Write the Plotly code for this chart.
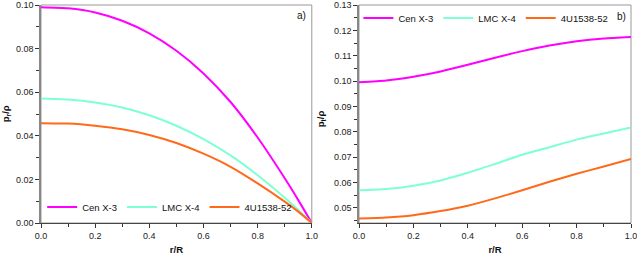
import plotly.graph_objects as go

# ---- data ----
r_left = [0.0, 0.1, 0.2, 0.3, 0.4, 0.5, 0.6, 0.7, 0.8, 0.9, 0.95, 1.0]
pr_cen = [0.0990, 0.0985, 0.0966, 0.0928, 0.0870, 0.0790, 0.0686, 0.0555, 0.0392, 0.0205, 0.0105, 0.0]
pr_lmc = [0.0571, 0.0566, 0.0553, 0.0530, 0.0494, 0.0446, 0.0385, 0.0310, 0.0219, 0.0116, 0.0060, 0.0]
pr_4u = [0.0458, 0.0456, 0.0446, 0.0430, 0.0404, 0.0367, 0.0318, 0.0258, 0.0182, 0.0098, 0.0052, 0.0]

r_right = [0.0, 0.1, 0.2, 0.3, 0.4, 0.5, 0.6, 0.7, 0.8, 0.9, 1.0]
pt_cen = [0.0995, 0.1002, 0.1017, 0.1038, 0.1064, 0.1092, 0.1118, 0.1140, 0.1157, 0.1168, 0.1174]
pt_lmc = [0.0569, 0.0574, 0.0587, 0.0608, 0.0638, 0.0673, 0.0709, 0.0739, 0.0769, 0.0793, 0.0817]
pt_4u = [0.0458, 0.0462, 0.0471, 0.0487, 0.0508, 0.0537, 0.0569, 0.0603, 0.0634, 0.0663, 0.0693]

names = ["Cen X-3", "LMC X-4", "4U1538-52"]
colors = ["#ff00ff", "#7fffd4", "#ff6a1a"]

x_ticks = [0.0, 0.2, 0.4, 0.6, 0.8, 1.0]

fig = go.Figure()
for name, col, ys in zip(names, colors, [pr_cen, pr_lmc, pr_4u]):
    fig.add_trace(go.Scatter(x=r_left, y=ys, mode="lines", name=name,
                             line=dict(color=col, width=2, shape="spline", smoothing=0.6),
                             xaxis="x", yaxis="y", legend="legend"))
for name, col, ys in zip(names, colors, [pt_cen, pt_lmc, pt_4u]):
    fig.add_trace(go.Scatter(x=r_right, y=ys, mode="lines", name=name,
                             line=dict(color=col, width=2, shape="spline", smoothing=0.6),
                             xaxis="x2", yaxis="y2", legend="legend2"))

FONT = "Liberation Sans, Arial"
tickfont = dict(family=FONT, size=9, color="#222")
titlefont = dict(family=FONT, size=9.5, color="#111")

def xaxis(domain, anchor):
    return dict(domain=domain, anchor=anchor, range=[0, 1], tickvals=x_ticks,
                tickformat=".1f", ticks="outside", ticklen=4, tickcolor="#333",
                showline=True, linecolor="#444", linewidth=1, showgrid=False,
                zeroline=False, tickfont=tickfont, automargin=False,
                ticklabeloverflow="allow",
                minor=dict(dtick=0.1, ticks="outside", ticklen=3, tickcolor="#333"),
                title=dict(text="<b>r/R</b>", font=titlefont, standoff=10))

def yaxis(domain, anchor, rng, dtick, minor):
    return dict(domain=domain, anchor=anchor, range=rng, dtick=dtick, tick0=0,
                tickformat=".2f", ticks="outside", ticklen=4, tickcolor="#333",
                showline=True, linecolor="#888", linewidth=1.5, showgrid=False,
                zeroline=False, tickfont=tickfont, automargin=False,
                ticklabeloverflow="allow",
                minor=dict(dtick=minor, ticks="outside", ticklen=3, tickcolor="#333"))

legfont = dict(family=FONT, size=9.5, color="#111")
fig.update_layout(
    width=637, height=255,
    margin=dict(l=41, r=6, t=5, b=32, autoexpand=False),
    paper_bgcolor="white", plot_bgcolor="white",
    xaxis=xaxis([0, 0.459], "y"),
    yaxis=yaxis([0, 1], "x", [0, 0.1], 0.02, 0.01),
    xaxis2=xaxis([0.539, 1], "y2"),
    yaxis2=yaxis([0, 1], "x2", [0.044, 0.13], 0.01, 0.005),
    legend=dict(orientation="h", x=0.002, y=0.073, xanchor="left", yanchor="middle",
                bgcolor="rgba(0,0,0,0)", font=legfont, itemwidth=30, tracegroupgap=0),
    legend2=dict(orientation="h", x=0.538, y=0.94, xanchor="left", yanchor="middle",
                 bgcolor="rgba(0,0,0,0)", font=legfont, itemwidth=30, tracegroupgap=0),
    showlegend=True,
)

# y-axis titles
fig.add_annotation(text="<b>p<sub>r</sub>/ρ</b>", xref="paper", yref="paper", x=-0.059, y=0.5,
                   textangle=-90, showarrow=False, xanchor="center", yanchor="middle",
                   font=titlefont)
fig.add_annotation(text="<b>p<sub>t</sub>/ρ</b>", xref="paper", yref="paper", x=0.476, y=0.48,
                   textangle=-90, showarrow=False, xanchor="center", yanchor="middle",
                   font=titlefont)

# frames
for xr, yr in [("x", "y"), ("x2", "y2")]:
    fig.add_shape(type="rect", xref=f"{xr} domain", yref=f"{yr} domain",
                  x0=0, x1=1, y0=0, y1=1, line=dict(color="#999", width=1), layer="below")

fig.add_annotation(text="a)", xref="x domain", yref="y domain", x=0.985, y=0.95,
                   xanchor="right", yanchor="middle", showarrow=False,
                   font=dict(family=FONT, size=10, color="#111"))
fig.add_annotation(text="b)", xref="x2 domain", yref="y2 domain", x=0.99, y=0.945,
                   xanchor="right", yanchor="middle", showarrow=False,
                   font=dict(family=FONT, size=10, color="#111"))

fig.write_html("out.html", config={"displayModeBar": False},
               post_script="document.body.style.margin='0px';")
